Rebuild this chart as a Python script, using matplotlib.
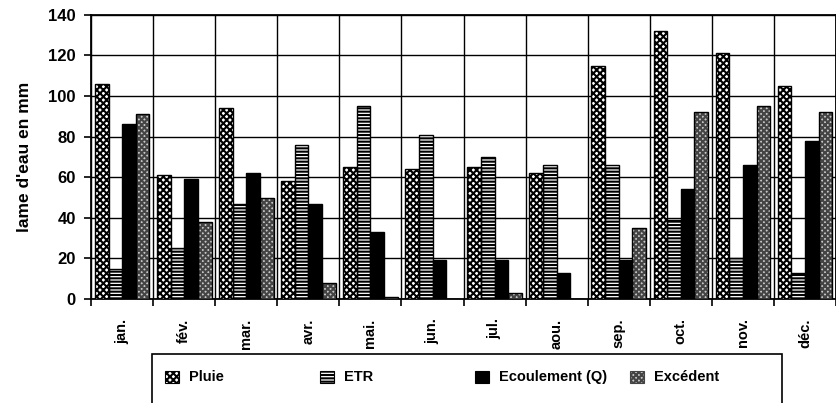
import numpy as np
import matplotlib.pyplot as plt
from matplotlib.patches import Rectangle

plt.rcParams['font.family'] = ['Liberation Sans', 'DejaVu Sans']
plt.rcParams['font.weight'] = 'bold'
plt.rcParams['hatch.linewidth'] = 1.5

months = ['jan.', 'fév.', 'mar.', 'avr.', 'mai.', 'jun.', 'jul.', 'aou.', 'sep.', 'oct.', 'nov.', 'déc.']
pluie = [106, 61, 94, 58, 65, 64, 65, 62, 115, 132, 121, 105]
etr = [15, 25, 47, 76, 95, 81, 70, 66, 66, 39, 20, 13]
ecoulement = [86, 59, 62, 47, 33, 19, 19, 13, 19, 54, 66, 78]
excedent = [91, 38, 50, 8, 1, 0, 3, 0, 35, 92, 95, 92]

series = [
    ('Pluie', pluie, dict(facecolor='white', edgecolor='black', hatch='xxxxx')),
    ('ETR', etr, dict(facecolor='white', edgecolor='black', hatch='-----')),
    ('Ecoulement (Q)', ecoulement, dict(facecolor='black', edgecolor='black')),
    ('Excédent', excedent, dict(facecolor='#c8c8c8', edgecolor='#444444', hatch='xxxxxx')),
]

fig = plt.figure(figsize=(8.36, 4.03), dpi=100)
ax = fig.add_axes([0.109, 0.258, 0.891, 0.705])

x = np.arange(len(months))
w = 0.22
for i, (name, vals, style) in enumerate(series):
    pos = x - 1.5 * w + i * w
    ax.bar(pos, vals, w, linewidth=0, zorder=3, **style)
    ax.bar(pos, vals, w, fill=False, edgecolor='black', linewidth=1.0, zorder=4)

ax.set_xlim(-0.5, len(months) - 0.5)
ax.set_ylim(0, 140)
ax.set_yticks(range(0, 141, 20))
ax.set_xticks(x)
ax.set_xticklabels(months, rotation=90, fontsize=10.5, fontweight='bold')
ax.tick_params(axis='x', length=0, pad=14)
ax.set_xticks(np.arange(-0.5, len(months), 1), minor=True)
ax.tick_params(axis='x', which='minor', length=5, width=1.2)
ax.tick_params(axis='y', length=5, width=1.2, labelsize=12, pad=6)
for lab in ax.get_yticklabels():
    lab.set_fontweight('bold')
ax.grid(axis='y', color='black', linewidth=1.0, zorder=0)
ax.grid(axis='x', which='minor', color='black', linewidth=1.0, zorder=0)
for s in ax.spines.values():
    s.set_linewidth(1.3)
ax.set_ylabel("lame d'eau en mm", fontsize=12.5, fontweight='bold', labelpad=12)

# legend box drawn by hand (Excel-style frame cut by the bottom edge)
fig.patches.append(Rectangle((152 / 836, -0.02), (782 - 152) / 836, (403 - 354) / 403 + 0.02,
                             transform=fig.transFigure, facecolor='white', edgecolor='black',
                             linewidth=1.2))
leg_x = [165, 320, 475, 630]
for (name, vals, style), lx in zip(series, leg_x):
    fig.patches.append(Rectangle((lx / 836, 1 - 383 / 403), 14 / 836, 12 / 403,
                                 transform=fig.transFigure, linewidth=0.8, **style))
    fig.text((lx + 24) / 836, 1 - 377 / 403, name, fontsize=10.5, fontweight='bold',
             va='center', ha='left')

fig.savefig('out.png', dpi=100)
